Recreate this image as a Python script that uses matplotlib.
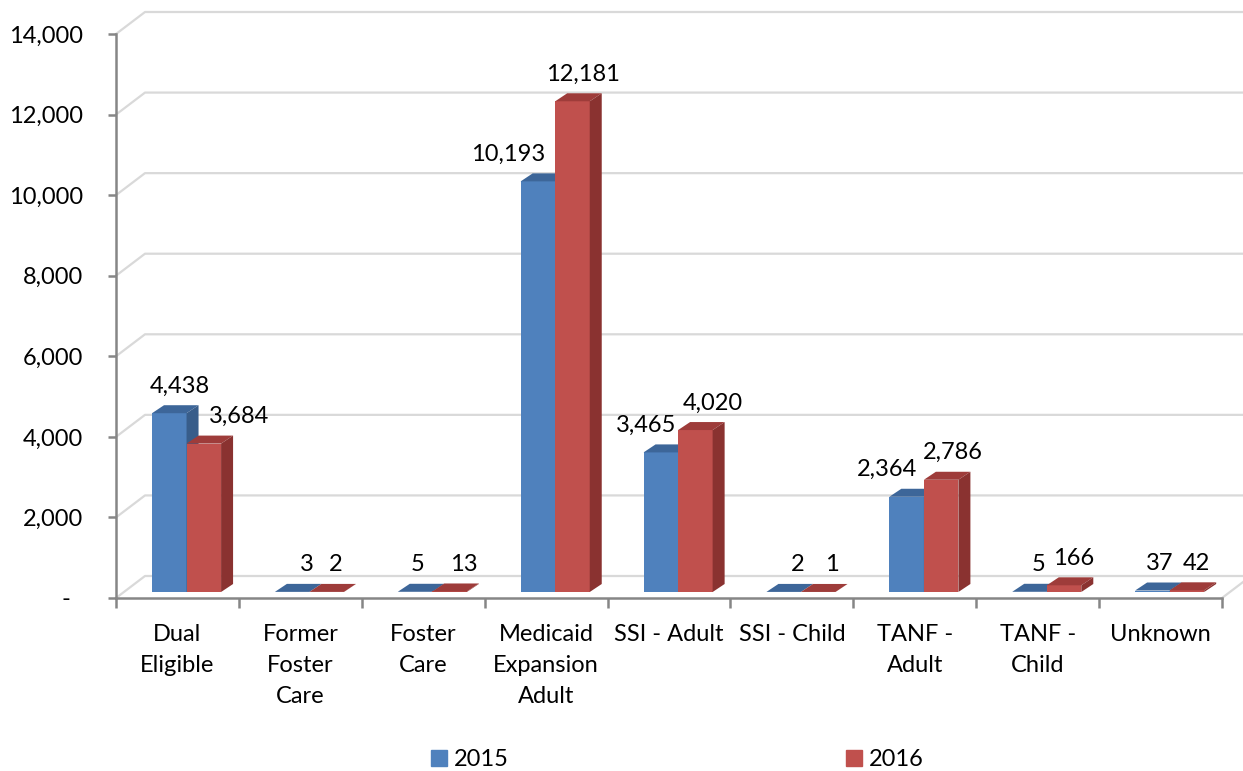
import numpy as np
import matplotlib.pyplot as plt
from matplotlib.patches import Patch

categories = ["Dual\nEligible", "Former\nFoster\nCare", "Foster\nCare",
              "Medicaid\nExpansion\nAdult", "SSI - Adult", "SSI - Child",
              "TANF -\nAdult", "TANF -\nChild", "Unknown"]
years = ["2015", "2016"]
values_2015 = [4438, 3, 5, 10193, 3465, 2, 2364, 5, 37]
values_2016 = [3684, 2, 13, 12181, 4020, 1, 2786, 166, 42]
yticks = np.arange(0, 14001, 2000)

# label x nudges in pixels, relative to the bar front centre (excel moved some)
nudge_2015 = [11, 15, 3, -30, -15, 14, -20, 9, 7]
nudge_2016 = [35, 9, 14, 10, 17, 14, 12, 10, 9]

plt.rcParams['font.family'] = ['Lato', 'DejaVu Sans']
FS = 17

W, H = 1243, 771
fig = plt.figure(figsize=(W / 100, H / 100), dpi=100)
x0, x1, y0, y1 = 116, 1222, 598, 34
ax = fig.add_axes([x0 / W, (H - y0) / H, (x1 - x0) / W, (y0 - y1) / H])
n = len(categories)
ymax = 14000
ax.set_xlim(0, n)
ax.set_ylim(0, ymax)

# pixel -> data helpers
px = n / (x1 - x0)
py = ymax / (y0 - y1)

grid_c = "#d9d9d9"
axis_c = "#868686"

# back wall / floor (3d look)
wall_dx, wall_dy = 29 * px, 22 * py
for v in yticks:
    ax.plot([0, wall_dx, n + 3 * wall_dx], [v, v + wall_dy, v + wall_dy],
            color=grid_c, lw=1.6, zorder=1, clip_on=False)
ax.plot([n, n + wall_dx], [0, wall_dy], color=grid_c, lw=1.6, zorder=1, clip_on=False)

# bars
blue = ("#4f81bd", "#3d6699", "#385d8a")
red = ("#c0504d", "#9e3c3a", "#8a3230")
bar_dx, bar_dy = 12 * px, 8 * py
base = 6 * py
left_off = 0.293
bw = 0.281


def draw_bar(xl, v, cols):
    xr = xl + bw
    top = base + v
    front, topc, side = cols
    ax.fill([xl, xr, xr, xl], [base, base, top, top], color=front, zorder=3, lw=0)
    ax.fill([xl, xr, xr + bar_dx, xl + bar_dx], [top, top, top + bar_dy, top + bar_dy],
            color=topc, zorder=3, lw=0)
    ax.fill([xr, xr + bar_dx, xr + bar_dx, xr], [base, base + bar_dy, top + bar_dy, top],
            color=side, zorder=3, lw=0)


for i in range(n):
    for s, (vals, cols, nud) in enumerate([(values_2015, blue, nudge_2015),
                                           (values_2016, red, nudge_2016)]):
        xl = i + left_off + s * bw
        draw_bar(xl, vals[i], cols)
        ax.text(xl + bw / 2 + nud[i] * px, base + vals[i] + 27 * py, f"{vals[i]:,}",
                ha="center", va="center", fontsize=FS, color="black", zorder=5)

# axes
for sp in ["top", "right"]:
    ax.spines[sp].set_visible(False)
for sp in ["left", "bottom"]:
    ax.spines[sp].set_color(axis_c)
    ax.spines[sp].set_linewidth(1.8)
    ax.spines[sp].set_zorder(2)

ax.set_yticks(yticks)
ax.set_yticklabels(["-  "] + [f"{v:,}" for v in yticks[1:]])
ax.tick_params(axis="y", direction="out", length=5.8, width=1.8, color=axis_c,
               labelsize=FS, pad=18)

ax.set_xticks(np.arange(n + 1))
ax.set_xticklabels([])
ax.set_xticks(np.arange(n) + 0.5, minor=True)
ax.set_xticklabels(categories, minor=True, fontsize=FS, linespacing=1.6, va="top")
ax.tick_params(axis="x", which="major", direction="out", length=7.2, width=1.8, color=axis_c)
ax.tick_params(axis="x", which="minor", length=0, pad=18.5)

handles = [Patch(color=blue[0], label=years[0]), Patch(color=red[0], label=years[1])]
fig.legend(handles=handles, loc="center", bbox_to_anchor=(677.5 / W, 1 - 760 / H), ncol=2,
           frameon=False, fontsize=FS, handlelength=0.65, handleheight=0.65,
           handletextpad=0.3, columnspacing=14.3)

fig.savefig("out.png", dpi=100)
